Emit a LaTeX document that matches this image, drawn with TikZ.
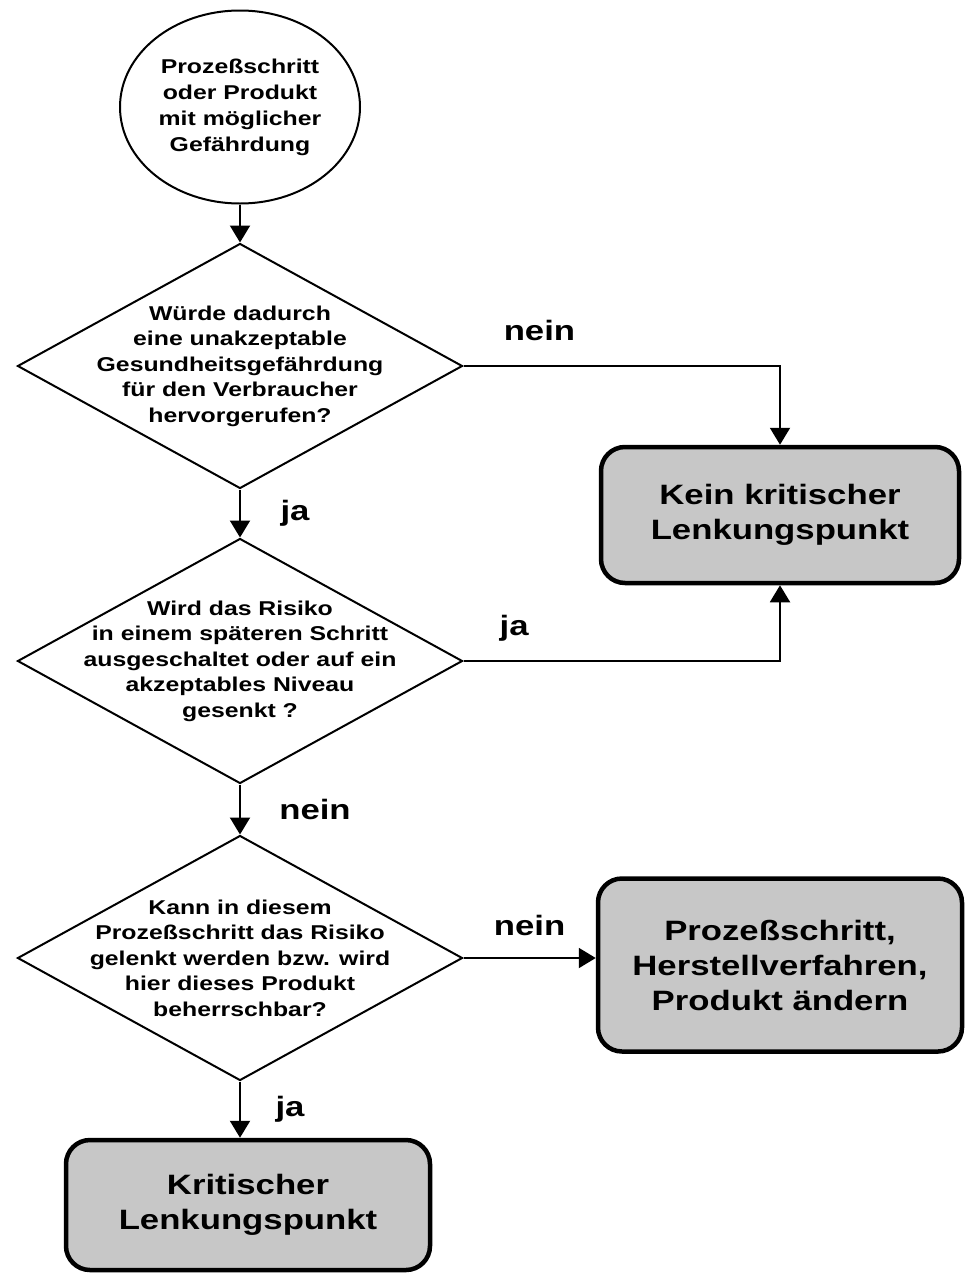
\documentclass[tikz,border=0pt]{standalone}
\usepackage{fontspec}
\setmainfont{Liberation Sans}[FakeStretch=1.24]
\usetikzlibrary{shapes.geometric, arrows.meta, positioning}

\begin{document}
\begin{tikzpicture}[x=1pt, y=1pt, on grid,
    start/.style={ellipse, draw, line width=2pt, minimum width=240pt, minimum height=193pt, inner sep=0pt, align=center, font=\fontsize{20}{26}\selectfont\bfseries},
    decision/.style={diamond, draw, line width=2pt, minimum width=445pt, minimum height=245pt, inner sep=0pt},
    qtext/.style={align=center, font=\fontsize{20}{25.5}\selectfont\bfseries},
    result/.style={rectangle, rounded corners=24pt, draw, line width=4.5pt, fill=black!22, align=center, font=\fontsize{28}{35}\selectfont\bfseries},
    lbl/.style={font=\fontsize{28}{34}\selectfont\bfseries},
    flow/.style={line width=2pt, -{Triangle[length=17pt, width=20pt]}}]
   \useasboundingbox (0,0) rectangle (966,-1274);

   \node[start] (start) at (240,-107) {Prozeßschritt\\oder Produkt\\mit möglicher\\Gefährdung};
   \node[decision] (q1) [below=259pt of start] {};
   \node[decision] (q2) [below=295pt of q1] {};
   \node[decision] (q3) [below=297pt of q2] {};
   \node[result, minimum width=358pt, minimum height=136pt] (kein) [below right=149pt and 540pt of q1] {Kein kritischer\\Lenkungspunkt};
   \node[result, minimum width=364pt, minimum height=173pt] (change) [below right=7pt and 540pt of q3] {Prozeßschritt,\\Herstellverfahren,\\Produkt ändern};
   \node[result, minimum width=364pt, minimum height=130pt] (krit) [below=247pt of q3, xshift=8pt] {Kritischer\\Lenkungspunkt};

   % questions
   \node[qtext] (q1t) at (q1) {Würde dadurch\\eine unakzeptable\\Gesundheitsgefährdung\\für den Verbraucher\\hervorgerufen?};
   \node[qtext] (q2t) at (q2) {Wird das Risiko\\in einem späteren Schritt\\ausgeschaltet oder auf ein\\akzeptables Niveau\\gesenkt ?};
   \node[qtext] (q3t) at (q3) {Kann in diesem\\Prozeßschritt das Risiko\\gelenkt werden bzw. wird\\hier dieses Produkt\\beherrschbar?};

   \draw[flow] (start) -- (q1);
   \draw[flow] (q1) -- node[lbl, xshift=55pt] (ja1) {ja} (q2);
   \draw[flow] (q1.east) -| node[lbl, pos=0.12, yshift=36pt] (nein1) {nein} (kein.north);
   \draw[flow] (q2.east) -| node[lbl, pos=0.08, yshift=33pt] (ja2) {ja} (kein.south);
   \draw[flow] (q2) -- node[lbl, xshift=75pt] (nein2) {nein} (q3);
   \draw[flow] (q3.east) -- node[lbl, yshift=33pt] (nein3) {nein} (q3.east -| change.west);
   \draw[flow] (q3.south) -- node[lbl, xshift=50pt] (ja3) {ja} (q3.south |- krit.north);
\end{tikzpicture}
\end{document}
